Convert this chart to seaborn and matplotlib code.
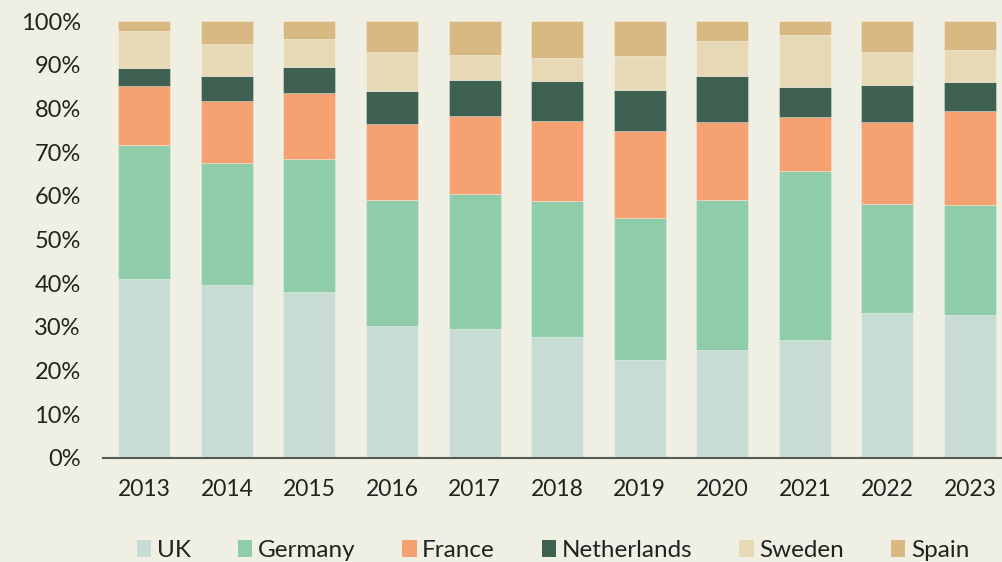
import matplotlib
matplotlib.use("Agg")
import matplotlib.pyplot as plt
import seaborn as sns
import pandas as pd
import numpy as np
from matplotlib.patches import Patch
from matplotlib.ticker import FuncFormatter

years = ["2013", "2014", "2015", "2016", "2017", "2018", "2019", "2020", "2021", "2022", "2023"]
uk          = [41.0, 39.6, 38.1, 30.2, 29.6, 27.6, 22.4, 24.7, 26.9, 33.2, 32.8]
germany     = [30.6, 27.9, 30.4, 28.8, 30.7, 31.3, 32.6, 34.4, 38.8, 24.9, 25.0]
france      = [13.5, 14.2, 15.0, 17.5, 18.0, 18.2, 19.8, 17.8, 12.3, 18.8, 21.5]
netherlands = [4.2, 5.6, 6.0, 7.5, 8.2, 9.2, 9.3, 10.6, 6.8, 8.5, 6.7]
sweden      = [8.3, 7.4, 6.3, 8.9, 5.7, 5.2, 7.9, 7.9, 12.0, 7.5, 7.4]
spain       = [2.4, 5.3, 4.2, 7.1, 7.8, 8.5, 8.0, 4.6, 3.2, 7.1, 6.6]

countries = ["UK", "Germany", "France", "Netherlands", "Sweden", "Spain"]
series = [uk, germany, france, netherlands, sweden, spain]
colors = ["#C8DCD5", "#8FCCAA", "#F6A172", "#3F6151", "#E7D8B6", "#D7B981"]

bg = "#F0EFE4"
sns.set_theme(style="white")
plt.rcParams["font.family"] = ["Lato", "DejaVu Sans"]

fig = plt.figure(figsize=(10.03, 5.62), dpi=100, facecolor=bg)
ax = fig.add_axes([103 / 1003, (562 - 458) / 562, 1 - 103 / 1003, 437 / 562])
ax.set_facecolor(bg)

bottom = np.zeros(len(years))
for name, vals, col in zip(countries, series, colors):
    df = pd.DataFrame({"year": years, "value": vals})
    sns.barplot(data=df, x="year", y="value", color=col, bottom=bottom,
                width=0.63, ax=ax, edgecolor=(1, 1, 1, 0.35), linewidth=0.6,
                saturation=1)
    bottom = bottom + np.array(vals)

ax.set_ylim(0, 100)
ax.set_xlim(-0.5, 10.4)
ax.set_yticks(np.arange(0, 101, 10))
ax.yaxis.set_major_formatter(FuncFormatter(lambda v, p: f"{int(v)}%"))
ax.set_xlabel("")
ax.set_ylabel("")
for s in ["top", "right", "left"]:
    ax.spines[s].set_visible(False)
ax.spines["bottom"].set_color("#555a55")
ax.spines["bottom"].set_linewidth(1.5)
ax.tick_params(axis="y", length=0, pad=16, labelsize=17, labelcolor="#222222")
ax.tick_params(axis="x", length=0, pad=15, labelsize=16.5, labelcolor="#222222")

handles = [Patch(facecolor=c, edgecolor="none", label=n) for n, c in zip(countries, colors)]
ax.legend(handles=handles, loc="center", bbox_to_anchor=(0.5, -0.212), ncol=6,
          frameon=False, fontsize=17.5, handlelength=0.6, handleheight=0.7,
          handletextpad=0.22, columnspacing=1.93, labelcolor="#222222")

fig.savefig("out.png", dpi=100, facecolor=bg)
